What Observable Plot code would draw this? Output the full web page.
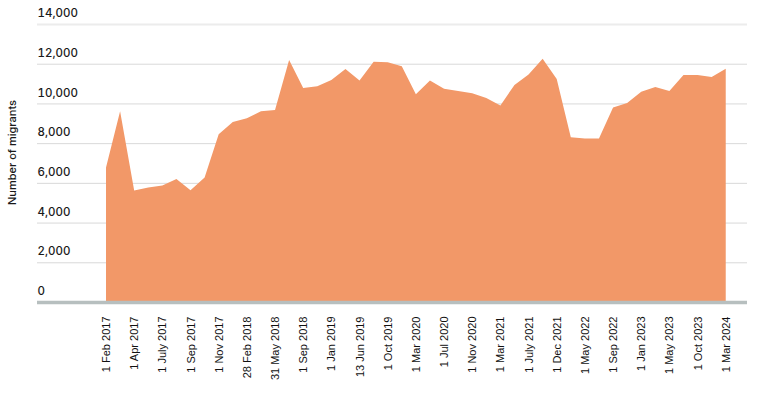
<!DOCTYPE html>
<html>
<head>
<meta charset="utf-8">
<script src="https://cdn.jsdelivr.net/npm/d3@7"></script>
<script src="https://cdn.jsdelivr.net/npm/@observablehq/plot@0.6"></script>
<style>
  html, body { margin: 0; padding: 0; background: #fff; }
  #chart svg { display: block; }
</style>
</head>
<body>
<div id="chart"></div>
<script>
// Number of migrants at each reporting date (45 observations, labelled every other one)
const migrants = [
  6770, 9600, 5610, 5770, 5870, 6190, 5630, 6270, 8450, 9060,
  9250, 9600, 9670, 12190, 10780, 10860, 11180, 11730, 11160, 12100,
  12070, 11870, 10460, 11150, 10740, 10620, 10510, 10270, 9900, 10930,
  11460, 12250, 11230, 8300, 8240, 8240, 9800, 10020, 10590, 10830,
  10620, 11430, 11430, 11330, 11750
];

// Date labels shown on the x axis (every second observation)
const dateLabels = [
  "1 Feb 2017", "1 Apr 2017", "1 July 2017", "1 Sep 2017", "1 Nov 2017",
  "28 Feb 2018", "31 May 2018", "1 Sep 2018", "1 Jan 2019", "13 Jun 2019",
  "1 Oct 2019", "1 Mar 2020", "1 Jul 2020", "1 Nov 2020", "1 Mar 2021",
  "1 July 2021", "1 Dec 2021", "1 May 2022", "1 Sep 2022", "1 Jan 2023",
  "1 May 2023", "1 Oct 2023", "1 Mar 2024"
];

const yTicks = [0, 2000, 4000, 6000, 8000, 10000, 12000, 14000];
const yTitle = "Number of migrants";

const data = migrants.map((v, i) => ({ idx: i, value: v }));
const labelIdx = dateLabels.map((_, k) => k * 2);

const chart = Plot.plot({
  width: 764,
  height: 401,
  marginLeft: 37,
  marginRight: 17,
  marginTop: 24,
  marginBottom: 99,
  style: { fontFamily: "Inter, sans-serif", background: "#fff", color: "#222" },
  x: { domain: [-4.9, 45.51] },
  y: { domain: [0, 14000] },
  marks: [
    Plot.ruleY(yTicks.filter(t => t > 0 && t < 14000), { stroke: "#d9d9d9", strokeWidth: 1 }),
    Plot.ruleY([14000], { stroke: "#ececec", strokeWidth: 2 }),
    Plot.areaY(data, { x: "idx", y: "value", fill: "#f29868", curve: "linear" }),
    Plot.ruleY([0], { stroke: "#b7bfbf", strokeWidth: 3.5 }),
    Plot.axisY({
      ticks: yTicks,
      tickSize: 0,
      tickPadding: 0,
      textAnchor: "start",
      dx: 0,
      dy: -11,
      fontSize: 11.5,
      fontFamily: "Inter, sans-serif",
      fontWeight: 500,
      label: null,
      tickFormat: d => d3.format(",")(d),
      fill: "#1a1a1a"
    }),
    Plot.axisX({
      ticks: labelIdx,
      tickFormat: d => dateLabels[d / 2],
      tickRotate: -90,
      tickSize: 0,
      tickPadding: 14,
      label: null,
      fontSize: 11,
      fontFamily: "'Liberation Sans', Arial, sans-serif",
      fill: "#111"
    }),
    Plot.text([yTitle], {
      frameAnchor: "left",
      text: d => d,
      rotate: -90,
      textAnchor: "middle",
      dx: -25,
      dy: -11,
      fontSize: 11,
      fontFamily: "Inter, sans-serif",
      fontWeight: 500,
      fill: "#1a1a1a"
    })
  ]
});

document.getElementById("chart").appendChild(chart);
</script>
</body>
</html>
